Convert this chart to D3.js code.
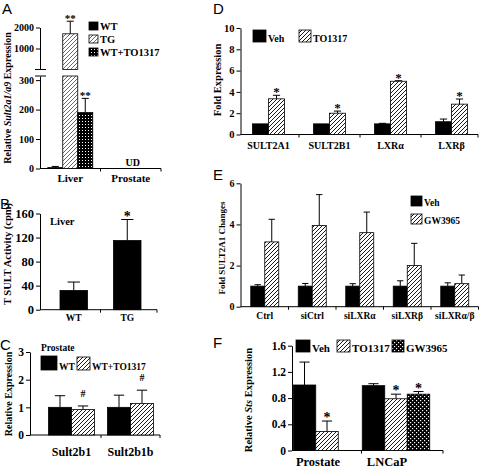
<!DOCTYPE html>
<html><head><meta charset="utf-8">
<script src="https://cdn.jsdelivr.net/npm/d3@7"></script>
<style>
body{margin:0;background:#fff}
svg{display:block}
text{font-family:"Liberation Serif","Times New Roman",serif;font-weight:bold;fill:#000}
text.plab{font-family:"Liberation Sans",Arial,sans-serif;font-weight:normal}
</style>
</head><body><svg id="chart" width="480" height="469"></svg>
<script>
// ---------- DATA ----------
// Panel A
const aCategories = ["Liver", "Prostate"];
const aSeries = ["WT", "TG", "WT+TO1317"];
const aValues = [[3, 1700, 190], [null, null, null]];
const aErrors = [[4, 600, 48], [null, null, null]];
const aStars = [["", "**", "**"], ["", "", ""]];
const aLowTicks = [0, 100, 200, 300];
const aHighTicks = [1000, 2000];
// Panel B
const bCategories = ["WT", "TG"];
const bSeries = ["Liver"];
const bValues = [[32], [115]];
const bErrors = [[14], [35]];
const bStars = [[""], ["*"]];
const bTicks = [0, 40, 80, 120, 160];
// Panel C
const cCategories = ["Sult2b1", "Sult2b1b"];
const cSeries = ["WT", "WT+TO1317"];
const cValues = [[1.0, 0.92], [1.0, 1.14]];
const cErrors = [[0.42, 0.13], [0.44, 0.48]];
const cStars = [["", "#"], ["", "#"]];
const cTicks = [0, 1, 2, 3];
// Panel D
const dCategories = ["SULT2A1", "SULT2B1", "LXRα", "LXRβ"];
const dSeries = ["Veh", "TO1317"];
const dValues = [[1.0, 3.35], [1.0, 2.0], [1.0, 5.0], [1.2, 2.85]];
const dErrors = [[0, 0.33], [0, 0.2], [0.05, 0.05], [0.25, 0.48]];
const dStars = [["", "*"], ["", "*"], ["", "*"], ["", "*"]];
const dTicks = [0, 2, 4, 6, 8, 10];
// Panel E
const eCategories = ["Ctrl", "siCtrl", "siLXRα", "siLXRβ", "siLXRα/β"];
const eSeries = ["Veh", "GW3965"];
const eValues = [[1.0, 3.15], [1.0, 3.95], [1.0, 3.6], [1.0, 2.0], [1.0, 1.12]];
const eErrors = [[0.07, 1.1], [0.13, 1.5], [0.12, 1.0], [0.26, 1.08], [0.16, 0.42]];
const eStars = [["", ""], ["", ""], ["", ""], ["", ""], ["", ""]];
const eTicks = [0, 2, 4, 6];
// Panel F
const fCategories = ["Prostate", "LNCaP"];
const fSeries = ["Veh", "TO1317", "GW3965"];
const fValues = [[1.0, 0.29, null], [0.99, 0.79, 0.86]];
const fErrors = [[0.35, 0.16, null], [0.03, 0.07, 0.04]];
const fStars = [["", "*", ""], ["", "*", "*"]];
const fTicks = [0, 0.4, 0.8, 1.2, 1.6];

// ---------- SETUP ----------
const SERIF = '"Liberation Serif","Times New Roman",serif';
const svg = d3.select("#chart");
const defs = svg.append("defs");
function hatch(id, color, w, s) {
  const p = defs.append("pattern").attr("id", id).attr("patternUnits", "userSpaceOnUse")
    .attr("width", s).attr("height", s);
  p.append("rect").attr("width", s).attr("height", s).attr("fill", "#fff");
  p.append("path").attr("d", `M-1,1L1,-1M0,${s}L${s},0M${s-1},${s+1}L${s+1},${s-1}`)
    .attr("stroke", color).attr("stroke-width", w);
}
hatch("hatch", "#000", 0.9, 4);
hatch("hatchA", "#444", 0.8, 4);
const pd = defs.append("pattern").attr("id", "dots").attr("patternUnits", "userSpaceOnUse").attr("width", 3).attr("height", 3);
pd.append("rect").attr("width", 3).attr("height", 3).attr("fill", "#000");
pd.append("rect").attr("x", 1).attr("y", 1).attr("width", 1).attr("height", 1).attr("fill", "#fff");
const pc = defs.append("pattern").attr("id", "check").attr("patternUnits", "userSpaceOnUse").attr("width", 4).attr("height", 4);
pc.append("rect").attr("width", 4).attr("height", 4).attr("fill", "#000");
pc.append("rect").attr("x", 0).attr("y", 0).attr("width", 1.2).attr("height", 1.2).attr("fill", "#fff");
pc.append("rect").attr("x", 2).attr("y", 2).attr("width", 1.2).attr("height", 1.2).attr("fill", "#fff");

const BLACK = "#000", HATCH = "url(#hatch)";

function txt(sel) {
  return sel.style("font-family", SERIF).style("font-weight", "bold").attr("fill", "#000");
}
function styleAxis(ax, fs) {
  ax.attr("font-family", null).attr("font-size", null);
  txt(ax.selectAll("text")).style("font-size", fs + "px");
  ax.selectAll("line").attr("stroke", "#000");
  ax.select(".domain").attr("stroke", "#000");
}
function yTitle(cx, cy, fs, parts) {
  const t = txt(svg.append("text")).attr("transform", `translate(${cx},${cy}) rotate(-90)`)
    .attr("text-anchor", "middle").attr("dy", "0.35em").style("font-size", fs + "px");
  parts.forEach(p => t.append("tspan").text(p[0]).style("font-style", p[1] ? "italic" : "normal"));
}
function panelLabel(t, x, y) {
  svg.append("text").attr("class", "plab").attr("x", x).attr("y", y).attr("fill", "#000")
    .style("font-family", '"Liberation Sans",Arial,sans-serif').style("font-weight", "normal")
    .style("font-size", "15px").text(t);
}
function legend(items, fills, pos, sizes, fs) {
  items.forEach((it, i) => {
    const p = pos[i], w = sizes[i][0], h = sizes[i][1];
    svg.append("rect").attr("x", p[0]).attr("y", p[1]).attr("width", w).attr("height", h)
      .attr("fill", fills[i]).attr("stroke", "#000").attr("stroke-width", 0.8);
    txt(svg.append("text")).attr("x", p[0] + w + 2).attr("y", p[1] + h - 0.5).style("font-size", fs + "px").text(it);
  });
}

function barPanel(o) {
  const g = svg.append("g");
  const x = d3.scaleBand().domain(o.cats).range(o.band);
  const n = o.series.length;
  const po = (x.bandwidth() / o.barW - n) / 2;
  const xs = d3.scaleBand().domain(o.series).range([0, x.bandwidth()]).paddingInner(0).paddingOuter(po);
  const y = o.y;
  const base = y(0);
  const ax = g.append("g").attr("transform", `translate(${o.axisX},0)`)
    .call(d3.axisLeft(y).tickValues(o.ticks).tickFormat(o.fmt || d3.format("d")).tickSize(4).tickSizeOuter(0).tickPadding(2));
  styleAxis(ax, o.tickFs);
  g.append("line").attr("x1", o.axisX).attr("x2", o.xEnd).attr("y1", base).attr("y2", base).attr("stroke", "#000");
  const bounds = o.cats.slice(1).map(c => x(c)).concat([o.xEnd]);
  g.selectAll(".bt").data(bounds).join("line").attr("x1", d => d).attr("x2", d => d)
    .attr("y1", base).attr("y2", base + 3).attr("stroke", "#000");
  o.cats.forEach((c, i) => {
    o.series.forEach((s, j) => {
      const v = o.values[i][j];
      if (v == null) return;
      const bx = x(c) + xs(s), cx = bx + o.barW / 2;
      const e = o.errors[i][j] || 0;
      const capY = y(v + e);
      if (e > 0) {
        g.append("line").attr("x1", cx).attr("x2", cx).attr("y1", y(v)).attr("y2", capY).attr("stroke", "#000");
        const cw = o.barW * 0.45;
        g.append("line").attr("x1", cx - cw / 2).attr("x2", cx + cw / 2).attr("y1", capY).attr("y2", capY).attr("stroke", "#000");
      }
      g.append("rect").attr("x", bx).attr("y", y(v)).attr("width", o.barW).attr("height", base - y(v))
        .attr("fill", o.fills[j]).attr("stroke", "#000").attr("stroke-width", 0.8);
      const st = o.stars ? o.stars[i][j] : "";
      if (st) {
        const sy = st === "#" ? capY - 9 : capY + 1;
        txt(g.append("text")).attr("x", cx).attr("y", sy).attr("text-anchor", "middle")
          .style("font-size", (st === "#" ? 10 : o.starFs) + "px").text(st);
      }
    });
    txt(g.append("text")).attr("x", x(c) + x.bandwidth() / 2 + (o.labelDx || 0)).attr("y", o.labelY)
      .attr("text-anchor", "middle").style("font-size", o.catFs + "px").text(c);
  });
  return { x, y };
}

// ---------- PANEL A (broken axis) ----------
{
  const g = svg.append("g");
  const x = d3.scaleBand().domain(aCategories).range([40, 161]);
  const barW = 15;
  const po = (x.bandwidth() / barW - aSeries.length) / 2;
  const xs = d3.scaleBand().domain(aSeries).range([0, x.bandwidth()]).paddingOuter(po);
  const yLo = d3.scaleLinear().domain([0, 314]).range([168.5, 76]);
  const yHi = d3.scaleLinear().domain([0, 2000]).range([69.5, 27.5]);
  const loMax = yLo.domain()[1];
  const fills = [BLACK, "url(#hatchA)", "url(#dots)"];
  const ax1 = g.append("g").attr("transform", "translate(40,0)")
    .call(d3.axisLeft(yLo).tickValues(aLowTicks).tickFormat(d3.format("d")).tickSize(4).tickSizeOuter(0).tickPadding(2));
  styleAxis(ax1, 10);
  const ax2 = g.append("g").attr("transform", "translate(40,0)")
    .call(d3.axisLeft(yHi).tickValues(aHighTicks).tickFormat(d3.format("d")).tickSize(4).tickSizeOuter(0).tickPadding(2));
  styleAxis(ax2, 10);
  [yHi.range()[0], yLo.range()[1]].forEach(by =>
    g.append("line").attr("x1", 35).attr("x2", 46).attr("y1", by).attr("y2", by).attr("stroke", "#000"));
  const base = yLo(0);
  g.append("line").attr("x1", 40).attr("x2", 161).attr("y1", base).attr("y2", base).attr("stroke", "#000");
  [x("Prostate"), 161].forEach(bx => g.append("line").attr("x1", bx).attr("x2", bx).attr("y1", base).attr("y2", base + 3).attr("stroke", "#000"));
  aCategories.forEach((c, i) => {
    aSeries.forEach((s, j) => {
      const v = aValues[i][j];
      if (v == null) return;
      const e = aErrors[i][j] || 0;
      const bx = x(c) + xs(s), cx = bx + barW / 2;
      const ys = v > loMax ? yHi : yLo;
      const capY = ys(v + e);
      g.append("line").attr("x1", cx).attr("x2", cx).attr("y1", ys(v)).attr("y2", capY).attr("stroke", "#000");
      g.append("line").attr("x1", cx - 3.5).attr("x2", cx + 3.5).attr("y1", capY).attr("y2", capY).attr("stroke", "#000");
      if (v > loMax) {
        g.append("rect").attr("x", bx).attr("y", yHi(v)).attr("width", barW).attr("height", yHi.range()[0] - yHi(v))
          .attr("fill", fills[j]).attr("stroke", "#000").attr("stroke-width", 0.8);
        g.append("rect").attr("x", bx).attr("y", yLo.range()[1]).attr("width", barW).attr("height", base - yLo.range()[1])
          .attr("fill", fills[j]).attr("stroke", "#000").attr("stroke-width", 0.8);
      } else {
        g.append("rect").attr("x", bx).attr("y", yLo(v)).attr("width", barW).attr("height", base - yLo(v))
          .attr("fill", fills[j]).attr("stroke", "#000").attr("stroke-width", 0.8);
      }
      if (aStars[i][j]) txt(g.append("text")).attr("x", cx).attr("y", capY + 1).attr("text-anchor", "middle")
        .style("font-size", "11px").text(aStars[i][j]);
    });
    txt(g.append("text")).attr("x", x(c) + x.bandwidth() / 2).attr("y", 182).attr("text-anchor", "middle")
      .style("font-size", "11px").text(c);
  });
  txt(g.append("text")).attr("x", x("Prostate") + x.bandwidth() / 2 + 2).attr("y", 166).attr("text-anchor", "middle")
    .style("font-size", "10px").text("UD");
  legend(aSeries, fills, [[89, 22], [89, 35], [89, 48]], [[9, 8], [9, 8], [9, 8]], 10.5);
  yTitle(7, 98, 10, [["Relative ", false], ["Sult2a1/a9", true], [" Expression", false]]);
  panelLabel("A", 2, 14);
}

// ---------- PANEL B ----------
barPanel({
  cats: bCategories, series: bSeries, values: bValues, errors: bErrors, stars: bStars,
  band: [47, 154], barW: 27.5, axisX: 40, xEnd: 157,
  y: d3.scaleLinear().domain([0, 160]).range([309.7, 213.5]), ticks: bTicks, tickFs: 12.5,
  fills: [BLACK], labelY: 321, catFs: 9.5, starFs: 14
});
txt(svg.append("text")).attr("x", 50).attr("y", 225).style("font-size", "10.5px").text("Liver");
yTitle(7, 254, 10.5, [["T SULT Activity (cpm)", false]]);
panelLabel("B", 0, 209);

// ---------- PANEL C ----------
barPanel({
  cats: cCategories, series: cSeries, values: cValues, errors: cErrors, stars: cStars,
  band: [42, 160], barW: 23, axisX: 30, xEnd: 160,
  y: d3.scaleLinear().domain([0, 3]).range([435, 352]), ticks: cTicks, tickFs: 11.5,
  fills: [BLACK, HATCH], labelY: 456, catFs: 12, starFs: 13
});
txt(svg.append("text")).attr("x", 41).attr("y", 351).style("font-size", "9.5px").text("Prostate");
legend(cSeries, [BLACK, HATCH], [[41, 356], [77, 357]], [[16, 14], [13, 13]], 9.5);
yTitle(8.5, 394, 10, [["Relative Expression", false]]);
panelLabel("C", 0, 350);

// ---------- PANEL D ----------
barPanel({
  cats: dCategories, series: dSeries, values: dValues, errors: dErrors, stars: dStars,
  band: [238, 482], barW: 16, axisX: 240.5, xEnd: 478,
  y: d3.scaleLinear().domain([0, 10]).range([134.5, 28]), ticks: dTicks, tickFs: 10.5,
  fills: [BLACK, HATCH], labelY: 148.5, catFs: 10, starFs: 13
});
legend(dSeries, [BLACK, HATCH], [[253, 30], [299, 30]], [[13, 12], [12, 12]], 10);
yTitle(217, 80, 10.5, [["Fold Expression", false]]);
panelLabel("D", 213, 14);

// ---------- PANEL E ----------
barPanel({
  cats: eCategories, series: eSeries, values: eValues, errors: eErrors, stars: eStars,
  band: [241, 478.5], barW: 14, axisX: 240.5, xEnd: 478.5,
  y: d3.scaleLinear().domain([0, 6]).range([306.7, 183.3]), ticks: eTicks, tickFs: 10,
  fills: [BLACK, HATCH], labelY: 318.5, catFs: 9.5, starFs: 13
});
legend(eSeries, [BLACK, HATCH], [[411, 196], [411, 214]], [[11, 10], [11, 10]], 9.5);
yTitle(222, 248, 9, [["Fold SULT2A1 Changes", false]]);
panelLabel("E", 213, 180);

// ---------- PANEL F ----------
barPanel({
  cats: fCategories, series: fSeries, values: fValues, errors: fErrors, stars: fStars,
  band: [292.5, 430.5], barW: 22.5, axisX: 292, xEnd: 443,
  y: d3.scaleLinear().domain([0, 1.6]).range([450.5, 345.7]), ticks: fTicks, tickFs: 11.5,
  fmt: d => d === 0 ? "0" : d3.format(".1f")(d),
  fills: [BLACK, HATCH, "url(#check)"], labelY: 466, catFs: 12.5, starFs: 14, labelDx: -9
});
legend(fSeries, [BLACK, HATCH, "url(#check)"], [[296, 340], [337, 340], [392, 340]], [[14, 12], [13, 12], [12, 12]], 11);
yTitle(248, 400, 10.5, [["Relative ", false], ["Sts", true], [" Expression", false]]);
panelLabel("F", 213, 348);
</script>
</body></html>
